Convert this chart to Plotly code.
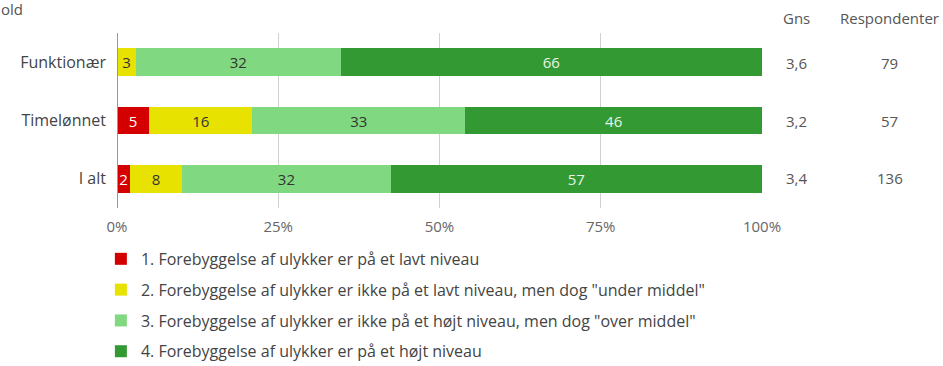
import plotly.graph_objects as go

# Survey groups (top to bottom) and the four answer levels
groups = ["Funktionær", "Timelønnet", "I alt"]
levels = [
    "1. Forebyggelse af ulykker er på et lavt niveau",
    "2. Forebyggelse af ulykker er ikke på et lavt niveau, men dog \"under middel\"",
    "3. Forebyggelse af ulykker er ikke på et højt niveau, men dog \"over middel\"",
    "4. Forebyggelse af ulykker er på et højt niveau",
]
level1 = [0, 5, 2]
level2 = [3, 16, 8]
level3 = [32, 33, 32]
level4 = [66, 46, 57]
averages = ["3,6", "3,2", "3,4"]
respondents = ["79", "57", "136"]
tick_vals = [0, 25, 50, 75, 100]
tick_text = ["0%", "25%", "50%", "75%", "100%"]

colors = ["#d40000", "#e8e200", "#80d880", "#339933"]
text_colors = ["#ffffff", "#333333", "#333333", "#e8f5e8"]
series = [level1, level2, level3, level4]

FONT = "Open Sans, Roboto, sans-serif"

fig = go.Figure()
for name, vals, col, tcol in zip(levels, series, colors, text_colors):
    fig.add_trace(go.Bar(
        y=groups, x=vals, name=name, orientation="h",
        marker=dict(color=col, line=dict(width=0)),
        text=[str(v) if v else "" for v in vals],
        textposition="inside", insidetextanchor="middle",
        textangle=0, constraintext="none",
        textfont=dict(color=tcol, size=15, family=FONT),
        legendgroup=name, hoverinfo="x+y",
    ))

# Right-hand columns: average score and number of respondents (paper x)
col_gns_x = 1.054
col_resp_x = 1.198
row_y = [0.83, 0.5, 0.17]
note_font = dict(size=15, color="#555", family=FONT)
for yy, a, r in zip(row_y, averages, respondents):
    fig.add_annotation(x=col_gns_x, y=yy, xref="paper", yref="paper", text=a,
                       xanchor="center", yanchor="middle", showarrow=False, font=note_font)
    fig.add_annotation(x=col_resp_x, y=yy, xref="paper", yref="paper", text=r,
                       xanchor="center", yanchor="middle", showarrow=False, font=note_font)
fig.add_annotation(x=col_gns_x, y=1.085, xref="paper", yref="paper", text="Gns",
                   xanchor="center", yanchor="middle", showarrow=False, font=note_font)
fig.add_annotation(x=col_resp_x, y=1.085, xref="paper", yref="paper", text="Respondenter",
                   xanchor="center", yanchor="middle", showarrow=False, font=note_font)

# Title fragment at the top-left edge
fig.add_annotation(x=0, y=1, xref="paper", yref="paper", xshift=-118, yshift=36,
                   xanchor="left", yanchor="top", text="old", showarrow=False,
                   font=dict(size=15, color="#555", family=FONT))

fig.update_layout(
    barmode="stack", barnorm="percent", bargap=0.53,
    width=943, height=366,
    margin=dict(l=117, r=181, t=33, b=158, autoexpand=False),
    paper_bgcolor="white", plot_bgcolor="white",
    font=dict(family=FONT, size=15, color="#555"),
    showlegend=True,
    legend=dict(
        orientation="v", x=-0.025, y=0.339, xanchor="left", yanchor="top",
        yref="container",
        traceorder="grouped", tracegroupgap=7,
        font=dict(size=16, color="#444", family=FONT),
        bgcolor="rgba(0,0,0,0)",
    ),
    xaxis=dict(
        range=[0, 100], tickvals=tick_vals, ticktext=tick_text,
        showgrid=True, gridcolor="#d0d0d0", gridwidth=1,
        zeroline=False, showline=False, ticks="",
        ticklabelstandoff=8,
        tickfont=dict(size=15, color="#666", family=FONT),
    ),
    yaxis=dict(
        categoryorder="array", categoryarray=groups[::-1],
        showgrid=False, zeroline=False, showline=False, ticks="",
        ticklabelstandoff=10,
        tickfont=dict(size=16, color="#444", family=FONT),
    ),
)

# Darker baseline at 0%
fig.add_shape(type="line", xref="x", yref="paper", x0=0, x1=0, y0=0, y1=1,
              line=dict(color="#999", width=2), layer="above")

fig.write_html("out.html")
